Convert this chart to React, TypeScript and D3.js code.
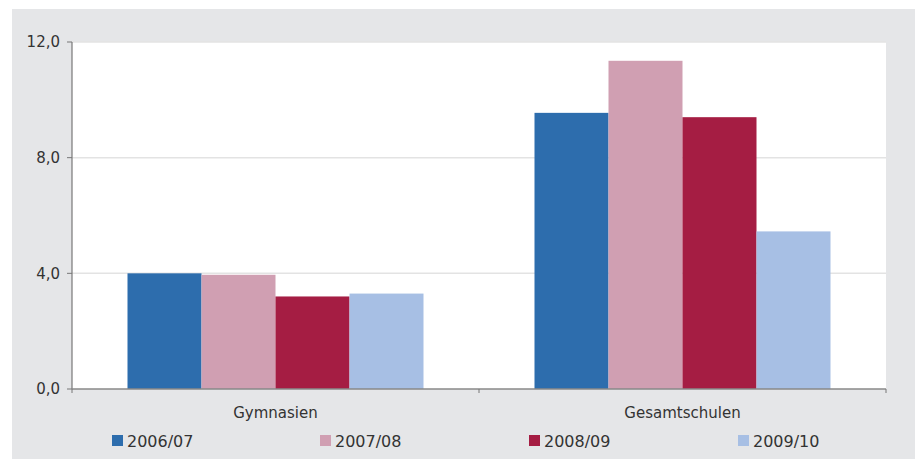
import React from "react";
import * as d3 from "d3";

const categories = ["Gymnasien", "Gesamtschulen"];
const seriesNames = ["2006/07", "2007/08", "2008/09", "2009/10"];
const seriesColors = ["#2d6dad", "#d09fb2", "#a51d43", "#a7bfe4"];
const values2006 = [4.0, 9.55];
const values2007 = [3.95, 11.35];
const values2008 = [3.2, 9.4];
const values2009 = [3.3, 5.45];
const yTicks = [0, 4, 8, 12];

const series = [values2006, values2007, values2008, values2009];

export default function App() {
  const W = 915, H = 459;
  const left = 72, right = 886, top = 42, bottom = 389;
  const x0 = d3.scaleBand<string>().domain(categories).range([left, right]).paddingInner(0).paddingOuter(0);
  const x1 = d3.scaleBand<string>().domain(seriesNames).range([0, x0.bandwidth()]).paddingOuter(0.75).paddingInner(0);
  const y = d3.scaleLinear().domain([0, 12]).range([bottom, top]);
  const fmt = (v: number) => d3.format(".1f")(v).replace(".", ",");
  const font = "'DejaVu Sans', sans-serif";
  const legendX = [112, 320, 529, 738];

  return (
    <svg width={W} height={H} style={{ position: "absolute", left: 0, top: 0 }} fontFamily={font}>
      <rect x={12} y={9} width={W - 12} height={H - 9} fill="#e5e6e8" />
      <rect x={left} y={top} width={right - left} height={bottom - top} fill="#ffffff" />
      {yTicks.map((t) => (
        <g key={t}>
          {t > 0 && <line x1={left} x2={right} y1={y(t)} y2={y(t)} stroke="#e3e3e3" strokeWidth={1.5} />}
          <line x1={left - 5} x2={left} y1={y(t)} y2={y(t)} stroke="#777" strokeWidth={1} />
          <text x={left - 12} y={y(t)} dy="0.35em" textAnchor="end" fontSize={15} fill="#333">{fmt(t)}</text>
        </g>
      ))}
      {categories.map((c, ci) => (
        <g key={c}>
          {series.map((vals, si) => (
            <rect key={si} x={(x0(c) as number) + (x1(seriesNames[si]) as number)} y={y(vals[ci])}
              width={x1.bandwidth()} height={y(0) - y(vals[ci])} fill={seriesColors[si]} />
          ))}
          <text x={(x0(c) as number) + x0.bandwidth() / 2} y={418} textAnchor="middle" fontSize={15} fill="#333">{c}</text>
        </g>
      ))}
      <line x1={left} x2={left} y1={top} y2={bottom} stroke="#777" strokeWidth={1.2} />
      <line x1={left} x2={right} y1={bottom} y2={bottom} stroke="#888" strokeWidth={1.5} />
      {[left, ...categories.map((c) => (x0(c) as number) + x0.bandwidth())].map((xx, i) => (
        <line key={i} x1={xx} x2={xx} y1={bottom} y2={bottom + 4} stroke="#777" strokeWidth={1} />
      ))}
      {seriesNames.map((s, i) => (
        <g key={s}>
          <rect x={legendX[i]} y={435} width={11} height={11} fill={seriesColors[i]} />
          <text x={legendX[i] + 15} y={447} fontSize={16} fill="#333">{s}</text>
        </g>
      ))}
    </svg>
  );
}
